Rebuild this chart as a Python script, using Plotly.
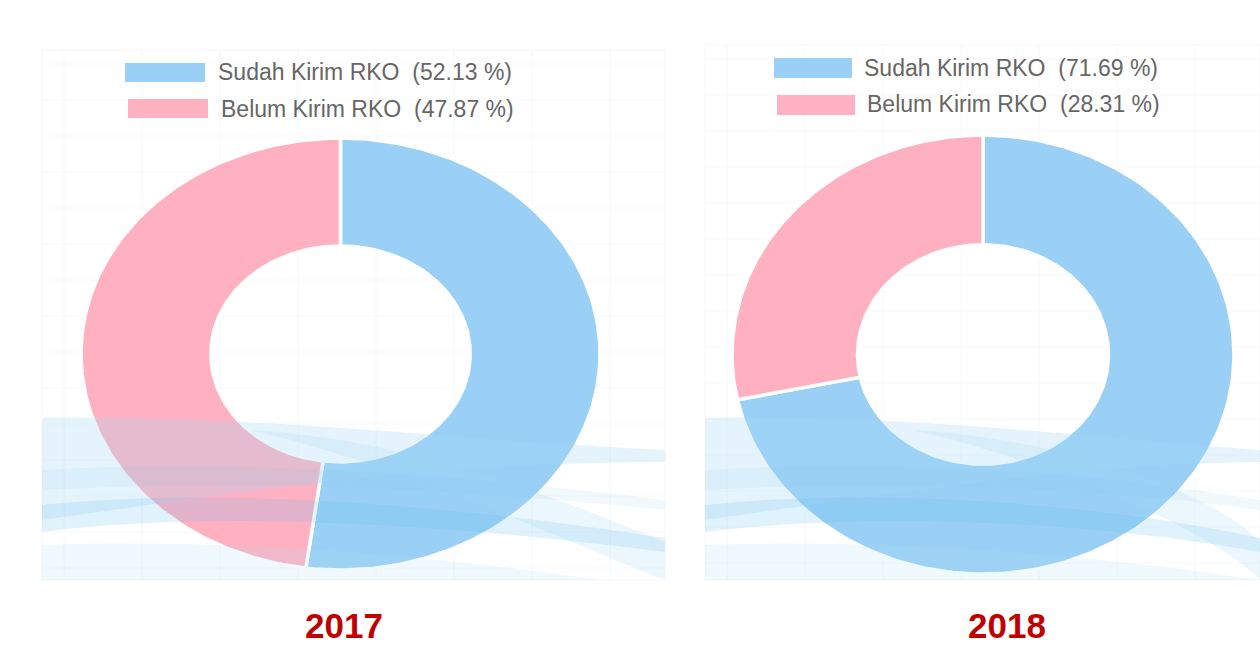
import numpy as np
import plotly.graph_objects as go

# ---- data ----
years = ["2017", "2018"]
labels = ["Sudah Kirim RKO", "Belum Kirim RKO"]
values_2017 = [52.13, 47.87]
values_2018 = [71.69, 28.31]
colors = ["rgb(154,208,245)", "rgb(255,177,193)"]

W, H = 1260, 645
def px(x):
    return x / W
def py(y):
    return 1 - y / H

fig = go.Figure()

# panel geometry (pixels) - layout only
panels = [
    dict(x0=42, x1=665, y0=50, y1=580,
         dx=(81, 600), dy=(138, 570),
         leg=[(125, 63, 205, 82, 216, 72.5), (128, 99, 208, 118, 219, 108.5)],
         title_x=344),
    dict(x0=705, x1=1260, y0=45, y1=580,
         dx=(732, 1234), dy=(135, 574),
         leg=[(774, 58, 852, 78, 862, 68), (777, 95, 855, 115, 865, 104.5)],
         title_x=1007),
]
all_values = [values_2017, values_2018]
HOLE = 0.5

shapes = []
annotations = []

for i, (p, vals, yr) in enumerate(zip(panels, all_values, years)):
    ax = "" if i == 0 else str(i + 1)
    total = sum(vals)
    start = 0.0
    for lab, v, c in zip(labels, vals, colors):
        a0 = start / total * 2 * np.pi
        a1 = (start + v) / total * 2 * np.pi
        t = np.linspace(a0, a1, 200)
        xs = np.concatenate([np.sin(t), HOLE * np.sin(t[::-1])])
        ys = np.concatenate([np.cos(t), HOLE * np.cos(t[::-1])])
        xs = np.append(xs, xs[0]); ys = np.append(ys, ys[0])
        fig.add_trace(go.Scatter(
            x=xs, y=ys, mode="lines", fill="toself", fillcolor=c,
            line=dict(color="white", width=3.5), name=lab,
            hoverinfo="text", text=f"{lab}: {v:.2f} %",
            showlegend=False, xaxis="x" + ax, yaxis="y" + ax))
        start += v
    fig.update_layout(**{
        "xaxis" + ax: dict(domain=[px(p["dx"][0]), px(p["dx"][1])], range=[-1, 1],
                           visible=False, fixedrange=True),
        "yaxis" + ax: dict(domain=[py(p["dy"][1]), py(p["dy"][0])], range=[-1, 1],
                           visible=False, fixedrange=True),
    })

    # panel background + faint grid
    shapes.append(dict(type="rect", xref="paper", yref="paper", layer="below",
                       x0=px(p["x0"]), x1=px(p["x1"]), y0=py(p["y1"]), y1=py(p["y0"]),
                       fillcolor="white", line=dict(color="rgba(240,242,245,0.5)", width=1)))
    gx = p["x0"] + 22
    while gx < p["x1"]:
        shapes.append(dict(type="line", xref="paper", yref="paper", layer="below",
                           x0=px(gx), x1=px(gx), y0=py(p["y1"]), y1=py(p["y0"]),
                           line=dict(color="rgba(240,243,247,0.6)", width=1)))
        gx += 78
    gy = p["y0"] + 14
    while gy < p["y1"]:
        shapes.append(dict(type="line", xref="paper", yref="paper", layer="below",
                           x0=px(p["x0"]), x1=px(p["x1"]), y0=py(gy), y1=py(gy),
                           line=dict(color="rgba(242,245,248,0.5)", width=1)))
        gy += 36

    # decorative waves
    off = p["x0"] - 42
    right = p["x1"]
    def path(pts_str):
        out = []
        for tok in pts_str.split():
            if tok[0].isalpha():
                out.append(tok)
            else:
                a, b = tok.split(",")
                xx = min(float(a) + off, right)
                out.append(f"{px(xx):.5f},{py(float(b)):.5f}")
        return " ".join(out)
    waves = [
        ("M 42,418 C 250,414 450,440 665,450 L 665,462 C 450,462 250,490 42,520 Z", "rgba(160,215,245,0.28)"),
        ("M 42,505 C 200,488 420,500 665,538 L 665,552 C 420,520 200,512 42,532 Z", "rgba(100,190,240,0.20)"),
        ("M 250,430 C 420,440 560,500 665,542 L 665,580 C 560,540 420,470 250,430 Z", "rgba(160,215,245,0.20)"),
        ("M 42,545 C 250,538 450,558 600,580 L 42,580 Z", "rgba(170,220,245,0.18)"),
        ("M 42,470 C 220,460 420,470 665,500 L 665,510 C 420,485 220,480 42,490 Z", "rgba(130,200,240,0.10)"),
    ]
    for d, col in waves:
        shapes.append(dict(type="path", xref="paper", yref="paper", layer="above",
                           path=path(d), fillcolor=col, line=dict(width=0)))

    # legend (swatches + real text)
    for (x0, y0, x1, y1, tx, ty), lab, v, c in zip(p["leg"], labels, vals, colors):
        shapes.append(dict(type="rect", xref="paper", yref="paper", layer="above",
                           x0=px(x0), x1=px(x1), y0=py(y1), y1=py(y0),
                           fillcolor=c, line=dict(width=0)))
        annotations.append(dict(xref="paper", yref="paper", x=px(tx), y=py(ty),
                                xanchor="left", yanchor="middle", showarrow=False,
                                text=f"{lab}  ({v:.2f} %)",
                                font=dict(family="Liberation Sans, Arial", size=23, color="#666666")))
    annotations.append(dict(xref="paper", yref="paper", x=px(p["title_x"]), y=py(625),
                            xanchor="center", yanchor="middle", showarrow=False,
                            text=f"<b>{yr}</b>",
                            font=dict(family="Liberation Sans, Arial", size=35, color="#C00000")))

fig.update_layout(
    width=W, height=H, margin=dict(l=0, r=0, t=0, b=0),
    paper_bgcolor="white", plot_bgcolor="rgba(0,0,0,0)",
    shapes=shapes, annotations=annotations, showlegend=False,
)

fig.write_html("out.html")
